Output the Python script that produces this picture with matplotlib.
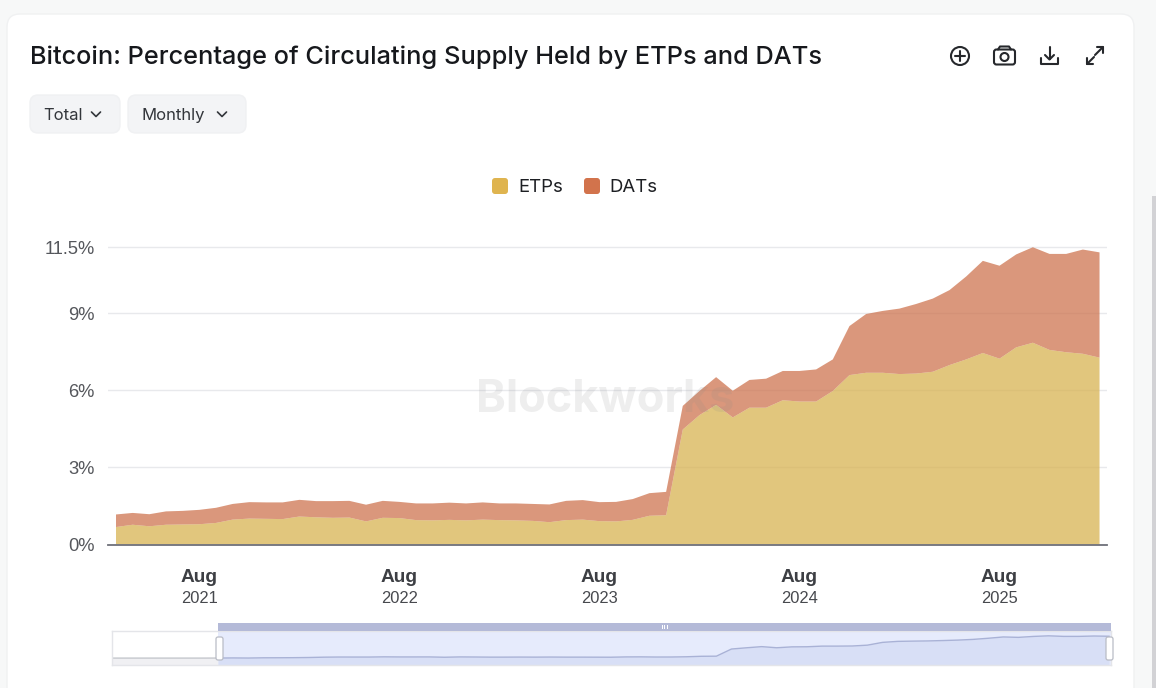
import numpy as np
import matplotlib
matplotlib.use('Agg')
import matplotlib.pyplot as plt
from matplotlib.patches import FancyBboxPatch, Circle, Rectangle

# monthly values, Mar 2021 .. Feb 2026
etps = [0.68, 0.77, 0.71, 0.77, 0.78, 0.79, 0.84, 0.97, 1.01, 1.00, 0.99, 1.09,
        1.06, 1.04, 1.05, 0.90, 1.04, 1.03, 0.95, 0.94, 0.96, 0.94, 0.97, 0.95,
        0.94, 0.92, 0.87, 0.95, 0.97, 0.91, 0.90, 0.96, 1.12, 1.14, 4.48, 5.04,
        5.44, 4.95, 5.33, 5.33, 5.62, 5.57, 5.57, 5.98, 6.60, 6.69, 6.69, 6.64,
        6.66, 6.73, 6.99, 7.21, 7.46, 7.24, 7.68, 7.86, 7.58, 7.49, 7.43, 7.28]
dats = [0.49, 0.46, 0.47, 0.52, 0.53, 0.56, 0.59, 0.61, 0.64, 0.64, 0.65, 0.65,
        0.63, 0.65, 0.65, 0.65, 0.66, 0.63, 0.65, 0.66, 0.67, 0.66, 0.67, 0.65,
        0.66, 0.66, 0.69, 0.75, 0.76, 0.74, 0.76, 0.81, 0.88, 0.91, 0.92, 0.94,
        1.08, 1.04, 1.08, 1.13, 1.14, 1.19, 1.25, 1.23, 1.91, 2.29, 2.41, 2.55,
        2.71, 2.85, 2.92, 3.23, 3.59, 3.62, 3.62, 3.72, 3.74, 3.83, 4.06, 4.10]
# months before the selected window, only visible in the range slider
earlier_total = [1.15, 1.15, 1.15, 1.15, 1.15, 1.15, 1.15]

title = 'Bitcoin: Percentage of Circulating Supply Held by ETPs and DATs'
ytick_vals = [0, 3, 6, 9, 11.58]
ytick_labels = ['0%', '3%', '6%', '9%', '11.5%']
xtick_idx = [5, 17, 29, 41, 53]
xtick_months = ['Aug'] * 5
xtick_years = ['2021', '2022', '2023', '2024', '2025']
series_names = ['ETPs', 'DATs']
etp_color = '#dfb44f'
dat_color = '#d2734c'
etp_fill = '#d7b250'
dat_fill = '#cd734e'

W, H = 1156, 688
UI_FONT = ['Inter', 'DejaVu Sans']
CHART_FONT = ['Liberation Sans', 'DejaVu Sans']
DARK = '#26282c'


def px_rect(left, top, right, bottom):
    return [left / W, 1 - bottom / H, (right - left) / W, (bottom - top) / H]


def rounded(ax, x0, y0, x1, y1, r, **kw):
    p = FancyBboxPatch((x0 + r, y0 + r), x1 - x0 - 2 * r, y1 - y0 - 2 * r,
                       boxstyle='round,pad=%g,rounding_size=%g' % (r, r), **kw)
    ax.add_patch(p)
    return p


def stroke(ax, xs, ys, color=DARK, lw=1.5):
    ax.plot(xs, ys, color=color, lw=lw, solid_capstyle='round', solid_joinstyle='round')


def px_layer(zorder):
    a = fig.add_axes([0, 0, 1, 1], zorder=zorder)
    a.set_xlim(0, W)
    a.set_ylim(H, 0)
    a.axis('off')
    return a


fig = plt.figure(figsize=(W / 100, H / 100), dpi=100, facecolor='#f7f8f8')

# page / card layer in pixel coordinates
bg = px_layer(0)
rounded(bg, 7, 14, 1134, 720, 13, fc='white', ec='#f0f1f2', lw=1)
bg.add_patch(Rectangle((1152, 196), 4, 492, fc='#d2d2d5', ec='none'))

bg.text(30, 57, title, fontsize=18.25, fontweight='medium', family=UI_FONT,
        color='#16181c', va='center', ha='left')

# dropdown buttons
for x0, x1, label, chev in [(30, 120, 'Total', 96), (128, 246, 'Monthly', 222)]:
    rounded(bg, x0, 95, x1, 133, 8, fc='#f3f4f6', ec='#f0f1f3', lw=1)
    bg.text(x0 + 13.5, 120, label, fontsize=12, family=UI_FONT, color='#33363b',
            va='baseline', ha='left')
    stroke(bg, [chev - 4.5, chev, chev + 4.5], [112, 116.5, 112], color='#33363b', lw=1.2)

# toolbar icons
bg.add_patch(Circle((960, 56), 9, fc='none', ec=DARK, lw=1.5))
stroke(bg, [955, 965], [56, 56])
stroke(bg, [960, 960], [51, 61])
rounded(bg, 994, 49.5, 1015, 64.5, 2.5, fc='none', ec=DARK, lw=1.5)
stroke(bg, [998, 1000, 1009, 1011], [49.5, 46.5, 46.5, 49.5])
bg.add_patch(Circle((1004.5, 57), 4, fc='none', ec=DARK, lw=1.5))
stroke(bg, [1041, 1041, 1058, 1058], [58, 64, 64, 58])
stroke(bg, [1049.5, 1049.5], [47, 59])
stroke(bg, [1045, 1049.5, 1054], [55, 59.5, 55])
stroke(bg, [1095, 1103], [55, 47])
stroke(bg, [1097, 1103, 1103], [47, 47, 53])
stroke(bg, [1087, 1094], [64, 57])
stroke(bg, [1087, 1087, 1093], [58, 64, 64])

# legend
legend_items = [(492, 518, series_names[0], etp_color), (584, 609.5, series_names[1], dat_color)]
for sx, tx, name, col in legend_items:
    rounded(bg, sx, 178, sx + 16, 194, 3, fc=col, ec='none')
    bg.text(tx, 187.5, name, fontsize=13.4, family=UI_FONT, color='#1d1f23', va='center', ha='left')

# main chart
px_per_pct = 25.67
px_per_month = 16.67
ax_top = 240.0
ax = fig.add_axes(px_rect(108, ax_top, 1107, 544.5), zorder=1)
ax.patch.set_alpha(0)
t = np.arange(len(etps))
ax.set_xlim((108 - 116) / px_per_month, (1107 - 116) / px_per_month)
ax.set_ylim(0, (544.5 - ax_top) / px_per_pct)
ax.set_axisbelow(True)
ax.yaxis.grid(True, color='#e8e9ec', lw=1)
ax.stackplot(t, etps, dats, colors=[etp_fill, dat_fill], alpha=0.74, lw=0)
for s in ['top', 'left', 'right']:
    ax.spines[s].set_visible(False)
ax.spines['bottom'].set_color('#6e7079')
ax.spines['bottom'].set_linewidth(1.3)
ax.set_yticks(ytick_vals)
ax.set_yticklabels(ytick_labels, family=CHART_FONT, fontsize=13.2, color='#55575c')
ax.set_xticks(xtick_idx)
ax.set_xticklabels(xtick_months, family=CHART_FONT, fontsize=13.8, fontweight='bold', color='#3d3f44')
ax.tick_params(axis='y', length=0, pad=9.5)
ax.tick_params(axis='x', length=0, pad=17.5)
for i, yr in zip(xtick_idx, xtick_years):
    ax.annotate(yr, xy=(i, 0), xycoords=('data', 'axes fraction'), xytext=(0, -33.2),
                textcoords='offset points', ha='center', va='top', family=CHART_FONT,
                fontsize=11.9, color='#47494e')

# watermark
mark = px_layer(2)
mark.text(605, 400, 'Blockworks', fontsize=32.5, fontweight='bold', family=UI_FONT,
          color='#8a8a8a', alpha=0.14, ha='center', va='center')

# range slider
mini_total = np.array(earlier_total + [e + d for e, d in zip(etps, dats)])
mini_t = np.arange(-len(earlier_total), len(etps))
mini = fig.add_axes(px_rect(112, 631, 1111, 665), zorder=3)
mini.set_xlim(-7.02, 59.13)
mini.set_ylim(-2.08, 13.84)
mini.set_xticks([])
mini.set_yticks([])
for s in mini.spines.values():
    s.set_color('#e4e5e9')
    s.set_linewidth(1)
mini.axvspan(0, 59.13, color='#e6ebfc', lw=0)
left_part = mini_t <= 0
right_part = mini_t >= 0
mini.fill_between(mini_t[left_part], -2.08, mini_total[left_part], color='#f0f0f3', lw=0)
mini.fill_between(mini_t[right_part], -2.08, mini_total[right_part], color='#d8dff6', lw=0)
mini.plot(mini_t[left_part], mini_total[left_part], color='#c4c6cc', lw=1)
mini.plot(mini_t[right_part], mini_total[right_part], color='#a9b2d6', lw=1)

top = px_layer(4)
top.add_patch(Rectangle((218, 623), 893, 8, fc='#b4bad8', ec='none'))
for gx in [662, 664.5, 667]:
    top.add_patch(Rectangle((gx - 0.5, 625), 1, 4, fc='white', ec='none'))
for hx in [216, 1106]:
    rounded(top, hx, 637, hx + 7, 660, 2, fc='white', ec='#b9bcc6', lw=0.9)

fig.savefig('out.png', dpi=100, facecolor=fig.get_facecolor())
